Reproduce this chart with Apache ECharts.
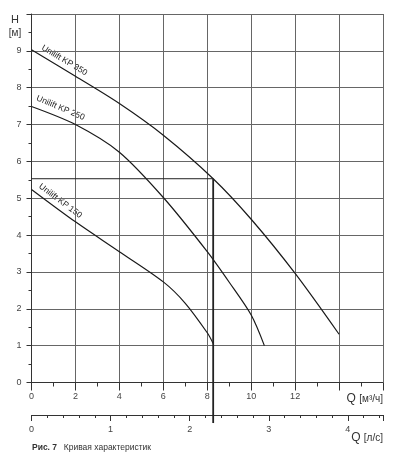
<!DOCTYPE html>
<html>
<head>
<meta charset="utf-8">
<script src="https://cdn.jsdelivr.net/npm/echarts@6/dist/echarts.min.js"></script>
<style>
  html, body { margin: 0; padding: 0; background: #fff; }
  #chart { width: 397px; height: 476px; }
</style>
</head>
<body>
<div id="chart"></div>
<script>
// Q [m3/h] -> H [m]
const kp350 = [[0, 9.03], [2, 8.31], [4, 7.57], [6, 6.71], [8.27, 5.53], [10, 4.43], [12, 2.96], [14, 1.31]];
const kp250 = [[0, 7.49], [2, 7.0], [4, 6.25], [6, 5.02], [8, 3.55], [9, 2.72], [10, 1.83], [10.6, 1.0]];
const kp150 = [[0, 5.24], [2, 4.36], [4, 3.55], [6, 2.73], [7, 2.15], [8, 1.35], [8.27, 1.06]];
// рабочая точка
const dutyQ = 8.27;
const dutyH = 5.53;
const dutyBottomH = -1.1;
const curveNames = ['Unilift KP 350', 'Unilift KP 250', 'Unilift KP 150'];
const m3hPerLs = 3.6;

const FONT = '"Liberation Sans", Arial, sans-serif';
const gridColor = '#666';
const inkColor = '#1a1a1a';
const labelColor = '#444';

const chart = echarts.init(document.getElementById('chart'), null, { renderer: 'canvas' });

function curve(name, data) {
  return {
    name: name,
    type: 'line',
    data: data,
    smooth: 0.3,
    symbol: 'none',
    lineStyle: { color: inkColor, width: 1.2 },
    z: 5
  };
}

// подписи кривых вдоль линий
function curveLabel(text, x, y, deg) {
  return {
    type: 'text',
    x: x,
    y: y,
    rotation: -deg * Math.PI / 180,
    style: { text: text, font: '8.5px ' + FONT, fill: '#222', textAlign: 'left', textVerticalAlign: 'bottom' }
  };
}

const option = {
  animation: false,
  backgroundColor: '#fff',
  grid: { left: 31.5, right: 14, top: 14, bottom: 93.5, containLabel: false },
  xAxis: [
    {
      type: 'value',
      min: 0,
      max: 16,
      interval: 2,
      axisLine: { show: true, lineStyle: { color: '#333', width: 1 } },
      axisTick: { show: true, length: 8, lineStyle: { color: '#333' } },
      minorTick: { show: true, splitNumber: 2, length: 4, lineStyle: { color: '#333' } },
      splitLine: { show: true, lineStyle: { color: gridColor, width: 1 } },
      axisLabel: {
        fontSize: 9, color: labelColor, fontFamily: FONT, margin: 10,
        formatter: v => (v >= 14 ? '' : String(v))
      }
    },
    {
      type: 'value',
      position: 'bottom',
      offset: 32.5,
      min: 0,
      max: 16 / m3hPerLs,
      interval: 1,
      axisLine: { show: true, lineStyle: { color: '#333', width: 1 } },
      axisTick: { show: true, length: 6, lineStyle: { color: '#333' } },
      minorTick: { show: true, splitNumber: 5, length: 3, lineStyle: { color: '#333' } },
      splitLine: { show: false },
      axisLabel: {
        fontSize: 9, color: labelColor, fontFamily: FONT, margin: 10,
        formatter: v => (Math.abs(v - Math.round(v)) < 1e-6 ? String(Math.round(v)) : '')
      }
    }
  ],
  yAxis: {
    type: 'value',
    min: 0,
    max: 10,
    interval: 1,
    axisLine: { show: true, lineStyle: { color: '#333', width: 1 } },
    axisTick: { show: true, length: 5, lineStyle: { color: '#333' } },
    minorTick: { show: true, splitNumber: 2, length: 3, lineStyle: { color: '#333' } },
    splitLine: { show: true, lineStyle: { color: gridColor, width: 1 } },
    axisLabel: {
      fontSize: 9, color: labelColor, fontFamily: FONT, margin: 10,
      formatter: v => (v >= 10 ? '' : String(v))
    }
  },
  series: [
    curve(curveNames[0], kp350),
    curve(curveNames[1], kp250),
    curve(curveNames[2], kp150),
    {
      type: 'line',
      data: [[0, dutyH], [dutyQ, dutyH]],
      symbol: 'none',
      lineStyle: { color: '#222', width: 1 },
      z: 6
    },
    {
      type: 'line',
      data: [[dutyQ, dutyH], [dutyQ, dutyBottomH]],
      symbol: 'none',
      clip: false,
      lineStyle: { color: '#222', width: 1.8 },
      z: 6
    }
  ],
  graphic: [
    { type: 'text', x: 15, y: 20, style: { text: 'H', font: '11px ' + FONT, fill: '#333', textAlign: 'center', textVerticalAlign: 'middle' } },
    { type: 'text', x: 15, y: 33, style: { text: '[м]', font: '10px ' + FONT, fill: '#333', textAlign: 'center', textVerticalAlign: 'middle' } },
    {
      type: 'text', x: 383, y: 399,
      style: {
        text: '{q|Q} {u|[м³/ч]}', textAlign: 'right', textVerticalAlign: 'middle',
        rich: { q: { font: '12px ' + FONT, fill: '#333' }, u: { font: '10px ' + FONT, fill: '#333' } }
      }
    },
    {
      type: 'text', x: 383, y: 438,
      style: {
        text: '{q|Q} {u|[л/с]}', textAlign: 'right', textVerticalAlign: 'middle',
        rich: { q: { font: '12px ' + FONT, fill: '#333' }, u: { font: '10px ' + FONT, fill: '#333' } }
      }
    },
    {
      type: 'text', x: 32, y: 448,
      style: {
        text: '{b|Рис. 7}  {n|Кривая характеристик}', textAlign: 'left', textVerticalAlign: 'middle',
        rich: { b: { font: 'bold 8.5px ' + FONT, fill: '#333' }, n: { font: '8.5px ' + FONT, fill: '#333' } }
      }
    },
    curveLabel(curveNames[0], 40, 51, 31),
    curveLabel(curveNames[1], 35, 102, 23),
    curveLabel(curveNames[2], 37, 189, 37)
  ]
};

chart.setOption(option);
</script>
</body>
</html>
